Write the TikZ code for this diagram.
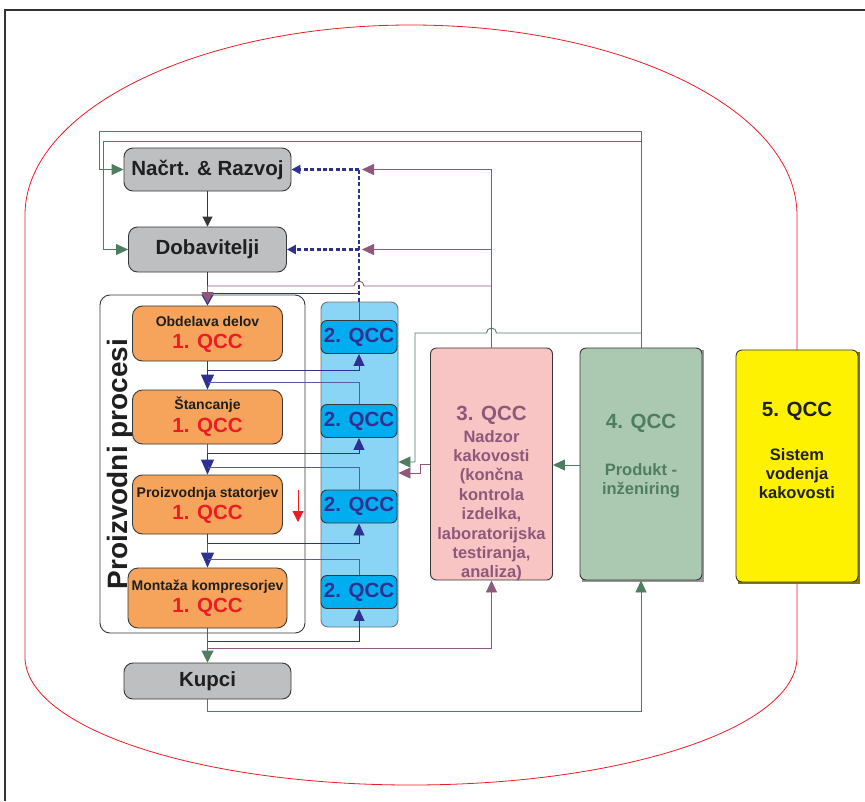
\documentclass[tikz,border=0pt]{standalone}
\usepackage{fontspec}
\setmainfont{Liberation Sans}
\usetikzlibrary{arrows.meta,calc}

\definecolor{boxgray}{RGB}{190,191,193}
\definecolor{orangefill}{RGB}{246,164,92}
\definecolor{colblue}{RGB}{138,213,245}
\definecolor{qccblue}{RGB}{0,174,239}
\definecolor{navy}{RGB}{46,49,146}
\definecolor{linkblue}{RGB}{88,90,170}
\definecolor{pinkfill}{RGB}{248,197,196}
\definecolor{mauve}{RGB}{142,88,122}
\definecolor{sage}{RGB}{171,201,176}
\definecolor{pine}{RGB}{78,125,96}
\definecolor{qyellow}{RGB}{255,242,0}
\definecolor{qred}{RGB}{237,28,36}
\definecolor{edge}{RGB}{55,55,55}

\tikzset{
  anybox/.style={draw=edge, line width=0.9pt, inner sep=0pt, anchor=center},
  graybox/.style={anybox, fill=boxgray, rounded corners=9pt,
    font=\fontsize{20.5}{24}\selectfont\bfseries, text=black!88},
  orbox/.style={anybox, fill=orangefill, rounded corners=10pt, minimum width=150pt},
  qtwo/.style={anybox, fill=qccblue, rounded corners=6pt, minimum width=76pt,
    minimum height=33pt, font=\fontsize{20.5}{24}\selectfont\bfseries, text=navy},
  bigbox/.style={anybox, rounded corners=6pt, minimum width=122pt, minimum height=232pt},
  ttl/.style={anchor=base, inner sep=0pt, font=\fontsize{14}{16}\selectfont\bfseries, text=black!88},
  qone/.style={anchor=base, inner sep=0pt, font=\fontsize{20.5}{24}\selectfont\bfseries, text=qred},
  qhead/.style={anchor=base, inner sep=0pt, font=\fontsize{20.5}{24}\selectfont\bfseries},
  qline/.style={anchor=base, inner sep=0pt, font=\fontsize{16.5}{19}\selectfont\bfseries},
  conn/.style={line width=0.9pt},
  tipS/.style={-{Triangle[length=12pt,width=11pt]}},
  tipL/.style={-{Triangle[length=15pt,width=13pt]}},
  dotline/.style={navy, line width=2.6pt, dash pattern=on 4pt off 2.4pt},
  dtip/.style={-{Triangle[length=9pt,width=9pt]}},
}

\begin{document}
\begin{tikzpicture}[x=1pt,y=-1pt]
\useasboundingbox (0,0) rectangle (865,801);

% outer frame
\draw[line width=1.5pt, black!80] (5,801) -- (5,10) -- (865,10);

% quality system boundary
\draw[qred, line width=0.8pt] (25,215)
  arc[start angle=180, end angle=0, x radius=386pt, y radius=190pt]
  -- (797,657)
  arc[start angle=0, end angle=-180, x radius=386pt, y radius=128pt]
  -- cycle;

% production process container
\node[anybox, fill=white, rounded corners=10pt, minimum width=205pt, minimum height=338pt]
  (proc) at (202.5,464) {};
\node[rotate=90, inner sep=0pt, font=\fontsize{28}{30}\selectfont\bfseries, text=black!88]
  (proclbl) at (120,464) {Proizvodni procesi};

% 2. QCC column
\node[anybox, draw=edge!70, fill=colblue, rounded corners=7pt, minimum width=77pt, minimum height=325pt]
  (col) at (359.5,464.5) {};
\node[qtwo] (q2a) at (359,337) {2. QCC};
\node[qtwo] (q2b) at (359,421) {2. QCC};
\node[qtwo] (q2c) at (359,506.5) {2. QCC};
\node[qtwo] (q2d) at (359,592) {2. QCC};

% gray boxes
\node[graybox, minimum width=167pt, minimum height=43pt] (nacrt) at (207.5,169.5) {Načrt. \& Razvoj};
\node[graybox, minimum width=158pt, minimum height=45pt] (dob) at (207.5,249.5) {Dobavitelji};
\node[graybox, minimum width=167pt, minimum height=36pt] (kupci) at (207.5,681) {Kupci};

% production steps
\node[orbox, minimum height=55pt] (obd) at (207.5,333.5) {};
\node[orbox, minimum height=54pt] (stan) at (207.5,417) {};
\node[orbox, minimum height=59pt] (stat) at (207.5,504.5) {};
\node[orbox, minimum width=159pt, minimum height=60pt] (mont) at (207.5,598) {};
\node[ttl] (obdT) at (207.5,326) {Obdelava delov};
\node[qone] (obdQ) at (207.5,348) {1. QCC};
\node[ttl] (stanT) at (207.5,409) {Štancanje};
\node[qone] (stanQ) at (207.5,432) {1. QCC};
\node[ttl] (statT) at (207.5,497) {Proizvodnja statorjev};
\node[qone] (statQ) at (207.5,519) {1. QCC};
\node[ttl] (montT) at (207.5,590) {Montaža kompresorjev};
\node[qone] (montQ) at (207.5,612) {1. QCC};

% QCC 3, 4, 5 (with slight drop shadow on 4 and 5)
\fill[black!40] (581.5,349.5) rectangle (703.5,581.5);
\fill[black!50!qyellow] (737.5,351.5) rectangle (859.5,583.5);
\node[bigbox, fill=pinkfill] (q3) at (491.5,464) {};
\node[bigbox, fill=sage] (q4) at (641,464) {};
\node[bigbox, fill=qyellow] (q5) at (797,466) {};

\node[qhead, text=mauve] (q3h) at (491.5,420) {3. QCC};
\foreach \t [count=\i] in {{Nadzor},{kakovosti},{(končna},{kontrola},{izdelka,},{laboratorijska},{testiranja,},{analiza)}}
  \node[qline, text=mauve] (q3l\i) at (491.5,{442+19.4*(\i-1)}) {\t};

\node[qhead, text=pine] (q4h) at (641,428) {4. QCC};
\node[qline, text=pine] (q4l1) at (641,475) {Produkt -};
\node[qline, text=pine] (q4l2) at (641,494) {inženiring};

\node[qhead, text=black!88] (q5h) at (797,416) {5. QCC};
\node[qline, text=black!88] (q5l1) at (797,460) {Sistem};
\node[qline, text=black!88] (q5l2) at (797,479) {vodenja};
\node[qline, text=black!88] (q5l3) at (797,498) {kakovosti};

% design feeds suppliers
\draw[conn, edge, -{Triangle[length=10pt,width=10pt]}] (nacrt) -- (dob);

% product engineering feedback
\draw[conn, pine, tipS] (q4.north) -- (q4.north |- 0,131) -- (99,131) |- (nacrt.west);
\draw[conn, pine, tipS] (q4.north |- 0,141) -- (103,141) |- (dob.west);
\draw[conn, pine, tipS] (q4.north |- 0,333) -- (496.5,333)
  arc[start angle=0, end angle=180, radius=5pt] -- (415,333) -- (415,462) -- (col.east |- 0,462);
\draw[conn, pine, tipS] (q4.west |- 0,465) -- (q3.east |- 0,465);

% quality control feedback
\draw[conn, mauve, tipS] (q3.west |- 0,464) -- (420,464) -- (420,473) -- (col.east |- 0,473);
\draw[conn, mauve, tipS] (q3.north) -- (q3.north |- nacrt.east) -- (362,169.5);
\draw[conn, mauve, tipS] (q3.north |- dob.east) -- (362,249.5);

% dotted QCC-2 feedback to design and suppliers
\draw[conn, linkblue] (col.north -| q2a.north) -- (q2a.north);
\draw[dotline] (col.north -| q2a.north) -- (q2a.north |- nacrt.east);
\draw[dotline, dtip] (q2a.north |- nacrt.east) -- (nacrt.east);
\draw[dotline, dtip] (q2a.north |- dob.east) -- (dob.east);

% inputs to the first production step
\draw[conn, edge] (dob.south) -- (dob.south |- 0,286);
\draw[conn, navy, -{Triangle[length=11pt,width=12pt]}] (q2a.north |- 0,293) -- (obd.north |- 0,293) -- (obd.north);
\draw[conn, mauve, -{Triangle[length=11pt,width=12pt]}] (q3.north |- 0,286) -- (364,286)
  arc[start angle=0, end angle=180, radius=5pt] -- (obd.north |- 0,286) -- (obd.north |- 0,303);

% step 1 -> step 2
\draw[conn, navy, tipL] (obd.south) -- (stan.north);
\draw[conn, navy, tipS] (obd.south |- 0,370) -- (q2a.south |- 0,370) -- (q2a.south);
\draw[conn, linkblue] (q2b.north) -- (q2b.north |- 0,382) -- (obd.south |- 0,382);

% step 2 -> step 3
\draw[conn, navy, tipL] (stan.south) -- (stat.north);
\draw[conn, qred] (stan.south) -- (stan.south |- 0,453);
\draw[conn, navy, tipS] (stan.south |- 0,453) -- (q2b.south |- 0,453) -- (q2b.south);
\draw[conn, linkblue] (q2c.north) -- (q2c.north |- 0,467) -- (stan.south |- 0,467);

% step 3 -> step 4
\draw[conn, navy, tipL] (stat.south) -- (mont.north);
\draw[conn, qred] (stat.south |- 0,543) -- (stat.south |- 0,554);
\draw[conn, navy, tipS] (stat.south |- 0,543) -- (q2c.south |- 0,543) -- (q2c.south);
\draw[conn, linkblue] (q2d.north) -- (q2d.north |- 0,559) -- (stat.south |- 0,559);

% step 4 -> customers
\draw[conn, mauve!70!navy, -{Triangle[length=12pt,width=12pt,color=pine]}] (mont.south) -- (kupci.north);
\draw[conn, navy, tipS] (mont.south |- 0,641) -- (q2d.south |- 0,641) -- (q2d.south);
\draw[conn, mauve, tipS] (mont.south |- 0,648) -- (q3.south |- 0,648) -- (q3.south);
\draw[conn, pine, tipS] (kupci.south) -- (kupci.south |- 0,711) -- (q4.south |- 0,711) -- (q4.south);

% small red marker arrow
\coordinate (redA) at (298,490);
\coordinate (redB) at (298,522);
\draw[conn, qred, -{Triangle[length=11pt,width=11pt]}] (redA) -- (redB);

\end{tikzpicture}
\end{document}
